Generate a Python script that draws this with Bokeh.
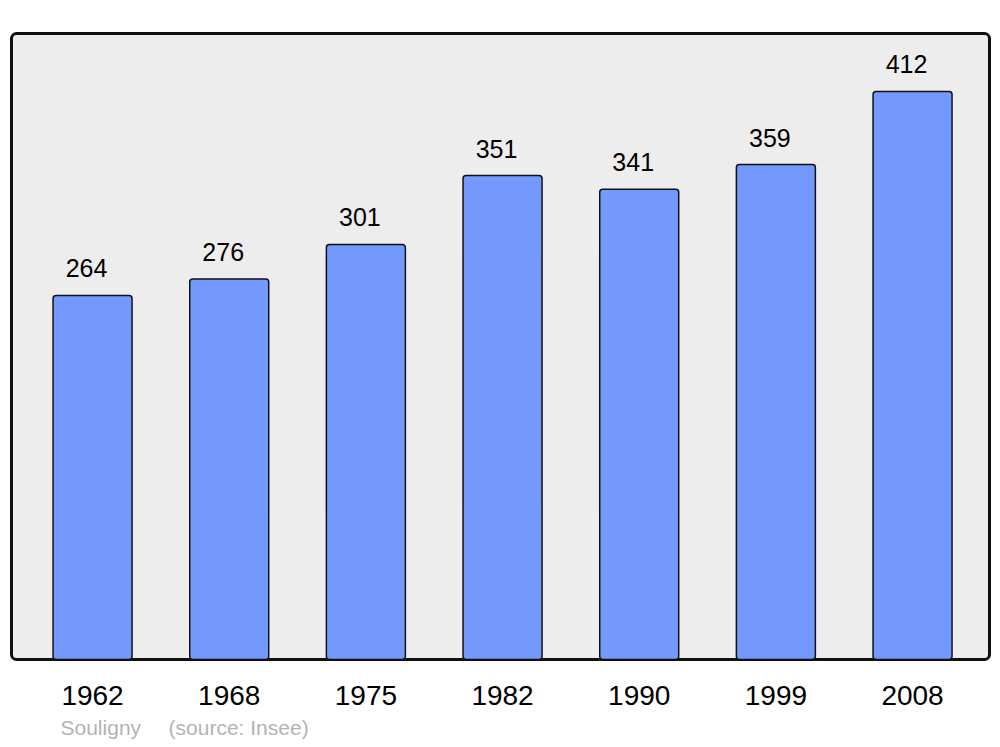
from bokeh.plotting import figure
from bokeh.models import Range1d, FixedTicker, Title, ColumnDataSource
from bokeh.core.properties import value
from bokeh.embed import file_html
from bokeh.resources import INLINE

years = ["1962", "1968", "1975", "1982", "1990", "1999", "2008"]
population = [264, 276, 301, 351, 341, 359, 412]
commune = "Souligny"
source_note = "(source: Insee)"

xs = list(range(len(years)))
src = ColumnDataSource(dict(x=xs, top=population, label=[str(v) for v in population]))

x0, x1 = -0.593, 6.563
y0, y1 = 0, 454
p = figure(frame_width=984, frame_height=632, output_backend="svg", toolbar_location=None,
           x_range=Range1d(x0 - 0.022, x1 + 0.022), y_range=Range1d(y0 - 2.2, y1 + 2.2),
           min_border_left=8, min_border_right=3, min_border_top=30, min_border_bottom=0)
p.outline_line_color = None
p.background_fill_color = "white"
p.border_fill_color = "white"
p.grid.visible = False
p.yaxis.visible = False

p.quad(left=[x0], right=[x1], bottom=[y0], top=[y1], fill_color="#ededed",
       line_color="#111111", line_width=3, border_radius=5)

p.vbar(x="x", top="top", bottom=0, width=0.578, source=src, fill_color="#7399ff",
       line_color="#111111", line_width=1.5, border_radius=3)
p.text(x="x", y="top", text="label", source=src, text_align="center", text_baseline="bottom",
       x_offset=-6, y_offset=-18, text_font=value("Liberation Sans"), text_font_size="25px",
       text_color="black")

ax = p.xaxis[0]
ax.ticker = FixedTicker(ticks=xs)
ax.major_label_overrides = {i: y for i, y in zip(xs, years)}
ax.axis_line_color = None
ax.major_tick_line_color = None
ax.minor_tick_line_color = None
ax.major_label_standoff = 17
ax.major_label_text_font = "Liberation Sans"
ax.major_label_text_font_size = "28px"
ax.major_label_text_color = "black"

note = commune + "\u00a0\u00a0\u00a0\u00a0\u2009" + source_note
p.add_layout(Title(text=note, align="left", offset=52, standoff=13,
                   text_font="Liberation Sans", text_font_size="21px", text_color="#b3b3b3",
                   text_font_style="normal"), "below")

open("out.html", "w").write(file_html(p, INLINE))
